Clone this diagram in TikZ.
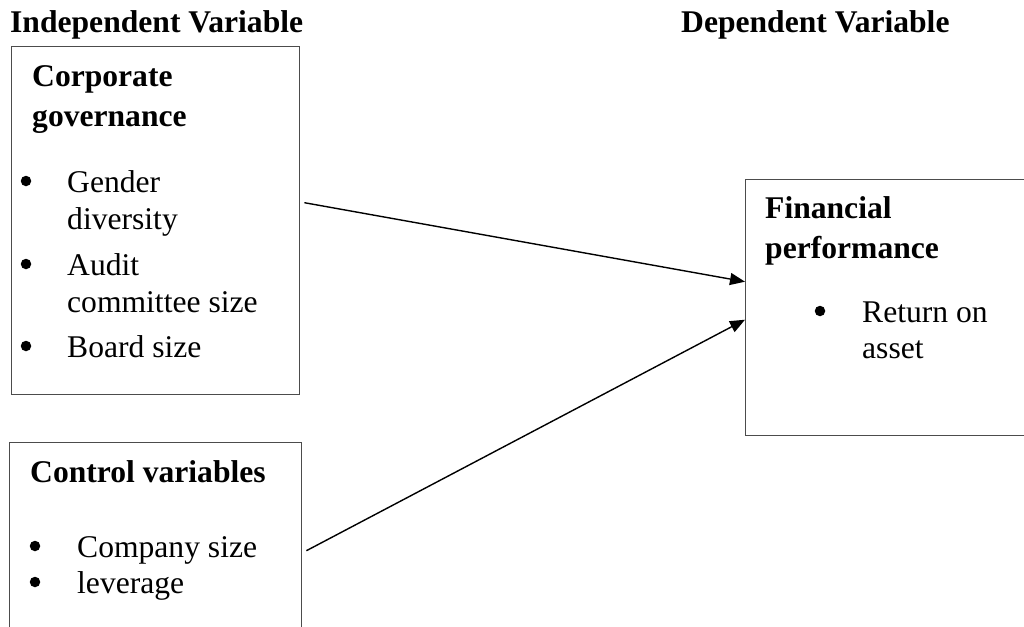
\documentclass[tikz,border=0pt]{standalone}
\usepackage{fontspec}
\setmainfont{Liberation Serif}
\usetikzlibrary{arrows.meta}
\begin{document}
\begin{tikzpicture}[x=1pt,y=-1pt,
  box/.style={draw=black!70,line width=1.4pt,rectangle,anchor=north west,inner sep=0pt},
  txt/.style={anchor=base west,inner sep=0pt,font=\fontsize{31.6}{36}\selectfont},
  hd/.style={txt,font=\fontsize{31.6}{36}\selectfont\bfseries},
  bul/.style={circle,fill=black,inner sep=0pt,minimum size=10.5pt},
  arr/.style={line width=1.4pt,-{Triangle[length=15pt,width=12pt]}}]
\clip (0,0) rectangle (1024,626);
\useasboundingbox (0,0) rectangle (1024,626);
% boxes
\node[box,minimum width=288pt,minimum height=348pt] (cg) at (11,46) {};
\node[box,minimum width=292pt,minimum height=200pt] (cv) at (9,442) {};
\node[box,minimum width=300pt,minimum height=256pt] (fp) at (745,179) {};
% headings
\node[hd] (ind) at (10,33) {Independent Variable};
\node[hd] (dep) at (681,33) {Dependent Variable};
% corporate governance
\node[hd] (cg1) at (32,86) {Corporate};
\node[hd] (cg2) at (32,126) {governance};
\node[bul] (b1) at (26,181) {};
\node[txt] (g1) at (67,192) {Gender};
\node[txt] (g2) at (67,229) {diversity};
\node[bul] (b2) at (26,264) {};
\node[txt] (g3) at (67,275) {Audit};
\node[txt] (g4) at (67,312) {committee size};
\node[bul] (b3) at (26,346) {};
\node[txt] (g5) at (67,357) {Board size};
% control variables
\node[hd] (cv1) at (30,482) {Control variables};
\node[bul] (b4) at (35,546) {};
\node[txt] (c1) at (77,557) {Company size};
\node[bul] (b5) at (35,582) {};
\node[txt] (c2) at (77,593) {leverage};
% financial performance
\node[hd] (fp1) at (765,218) {Financial};
\node[hd] (fp2) at (765,258) {performance};
\node[bul] (b6) at (820,311) {};
\node[txt] (f1) at (862,322) {Return on};
\node[txt] (f2) at (862,358) {asset};
% arrows
\draw[arr] ([xshift=4pt,yshift=18pt]cg.east) -- ([yshift=26pt]fp.west);
\draw[arr] ([xshift=4pt,yshift=-8pt]cv.east) -- ([yshift=-12pt]fp.west);
\end{tikzpicture}
\end{document}
